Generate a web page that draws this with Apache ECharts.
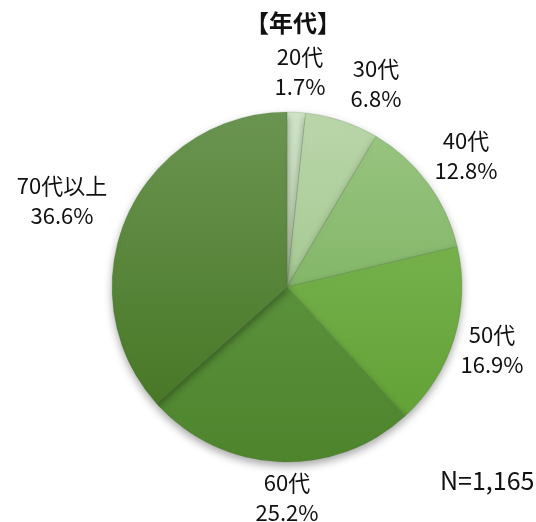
<!DOCTYPE html>
<html>
<head>
<meta charset="utf-8">
<script src="https://cdn.jsdelivr.net/npm/echarts@6/dist/echarts.min.js"></script>
<style>
  html, body { margin: 0; padding: 0; background: #fff; }
  #chart { width: 536px; height: 522px; }
</style>
</head>
<body>
<div id="chart"></div>
<script>
// age groups and share (%)
const categories = ['20代', '30代', '40代', '50代', '60代', '70代以上'];
const shares = [1.7, 6.8, 12.8, 16.9, 25.2, 36.6];
const totalLabel = 'N=1,165';

// slice colours, top -> bottom of the gradient
const sliceColors = [
    ['#d0e4c7', '#c2d9b6'],
    ['#b9d6a9', '#a7ca94'],
    ['#97c47f', '#84b769'],
    ['#76b14c', '#62a236'],
    ['#5a913b', '#4e842c'],
    ['#6b9552', '#487826']
];
// label anchor points
const labelPos = [
    [300, 72], [376, 84], [466, 156], [492, 350], [287, 498], [62, 201]
];

const chart = echarts.init(document.getElementById('chart'));

const option = {
    animation: false,
    textStyle: {
        fontFamily: '"Noto Sans CJK JP", "Noto Sans", sans-serif'
    },
    title: {
        text: '【年代】',
        left: 240,
        top: 6,
        textStyle: {
            fontSize: 24,
            fontWeight: 'bold',
            color: '#111',
            fontFamily: '"Noto Sans CJK JP", sans-serif'
        }
    },
    graphic: [
        {
            type: 'text',
            left: 440,
            top: 468,
            style: {
                text: totalLabel,
                fontSize: 25,
                fill: '#111',
                fontFamily: '"Noto Sans CJK JP", "Noto Sans", sans-serif'
            }
        }
    ],
    series: [
        {
            type: 'pie',
            center: [287, 287],
            radius: [0, 175],
            startAngle: 90,
            clockwise: true,
            label: {
                show: true,
                position: 'outside',
                alignTo: 'none',
                overflow: 'none',
                formatter: (p) => p.name + '\n' + p.value.toFixed(1) + '%',
                fontSize: 22,
                lineHeight: 30,
                color: '#111',
                align: 'center'
            },
            labelLine: { show: false },
            labelLayout: (params) => ({
                x: labelPos[params.dataIndex][0],
                y: labelPos[params.dataIndex][1],
                align: 'center',
                verticalAlign: 'middle'
            }),
            itemStyle: {
                borderWidth: 0.5,
                borderColor: 'rgba(60,90,40,0.35)',
                shadowBlur: 8,
                shadowOffsetY: 4,
                shadowColor: 'rgba(0,0,0,0.35)'
            },
            emphasis: { disabled: true },
            data: categories.map((c, i) => ({
                name: c,
                value: shares[i],
                itemStyle: {
                    color: {
                        type: 'linear',
                        x: 0, y: 0, x2: 0, y2: 1,
                        colorStops: [
                            { offset: 0, color: sliceColors[i][0] },
                            { offset: 1, color: sliceColors[i][1] }
                        ]
                    }
                }
            }))
        }
    ]
};

chart.setOption(option);
</script>
</body>
</html>
